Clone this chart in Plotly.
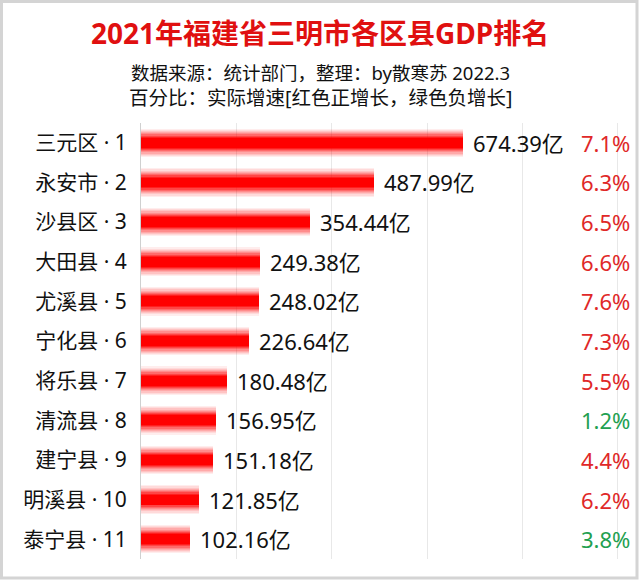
import plotly.graph_objects as go

regions = ["三元区", "永安市", "沙县区", "大田县", "尤溪县", "宁化县", "将乐县", "清流县", "建宁县", "明溪县", "泰宁县"]
ranks = list(range(1, 12))
gdp = [674.39, 487.99, 354.44, 249.38, 248.02, 226.64, 180.48, 156.95, 151.18, 121.85, 102.16]
growth = [7.1, 6.3, 6.5, 6.6, 7.6, 7.3, 5.5, 1.2, 4.4, 6.2, 3.8]
growth_colors = ["red", "red", "red", "red", "red", "red", "red", "green", "red", "red", "green"]

cats = [f"{r} · {k}" for r, k in zip(regions, ranks)]

W, H = 640, 582
ML, MR, MT, MB = 141, 12, 123, 23
PW, PH = W - ML - MR, H - MT - MB


def px_x(px):
    return (px - ML) / PW


def px_y(py):
    return 1 - (py - MT) / PH


FONT = "Noto Sans, Noto Sans CJK SC"
fig = go.Figure()

# layered bars approximate the white-red-white vertical gradient of the reference
layers = [(0.72, 0.07), (0.66, 0.08), (0.60, 0.10), (0.54, 0.13), (0.48, 0.17),
          (0.42, 0.24), (0.36, 0.35), (0.30, 0.55), (0.25, 1.0)]
for w, a in layers:
    fig.add_trace(go.Bar(y=cats, x=gdp, orientation="h", width=w,
                         marker=dict(color=f"rgba(255,0,0,{a})", line=dict(width=0)),
                         hoverinfo="skip", showlegend=False))

ann = []
for c, v, g, gc in zip(cats, gdp, growth, growth_colors):
    ann.append(dict(x=v, y=c, xref="x", yref="y", text=f"{v:.2f}亿", showarrow=False,
                    xanchor="left", xshift=8, font=dict(family=FONT, size=22, color="#111111")))
    ann.append(dict(x=1, y=c, xref="paper", yref="y", text=f"{g}%", showarrow=False,
                    xanchor="right", xshift=4,
                    font=dict(family=FONT, size=22, color="#e02828" if gc == "red" else "#22a050")))

ann.append(dict(x=px_x(320), y=px_y(33), xref="paper", yref="paper", showarrow=False,
                text="<b>2021年福建省三明市各区县GDP排名</b>", xanchor="center", yanchor="middle",
                font=dict(family=FONT, size=28, color="#e01010")))
ann.append(dict(x=px_x(320), y=px_y(72), xref="paper", yref="paper", showarrow=False,
                text="数据来源：统计部门，整理：by散寒苏 2022.3", xanchor="center", yanchor="middle",
                font=dict(family=FONT, size=18.5, color="#111111")))
ann.append(dict(x=px_x(320), y=px_y(98), xref="paper", yref="paper", showarrow=False,
                text="百分比：实际增速[红色正增长，绿色负增长]", xanchor="center", yanchor="middle",
                font=dict(family=FONT, size=19.5, color="#111111")))

shapes = [dict(type="rect", xref="paper", yref="paper", x0=px_x(1.5), x1=px_x(637), y0=px_y(1.5), y1=px_y(578),
               line=dict(color="#d4d4d4", width=3), fillcolor="rgba(0,0,0,0)", layer="below")]

fig.update_layout(
    width=W, height=H, margin=dict(l=ML, r=MR, t=MT, b=MB, autoexpand=False),
    paper_bgcolor="white", plot_bgcolor="white", barmode="overlay", bargap=0,
    annotations=ann, shapes=shapes,
    xaxis=dict(range=[0, 1021], dtick=200, showgrid=True, gridcolor="#e8e8e8", gridwidth=1,
               showticklabels=False, zeroline=False, showline=False, fixedrange=True, automargin=False),
    yaxis=dict(autorange="reversed", showline=True, linecolor="#d0d0d0", linewidth=1, ticks="",
               automargin=False, ticklabelstandoff=9, tickfont=dict(family=FONT, size=21, color="#111111")),
    font=dict(family=FONT),
)

fig.write_html("out.html", config={"displayModeBar": False},
               post_script="document.body.style.margin='0';document.body.style.overflow='hidden';")
